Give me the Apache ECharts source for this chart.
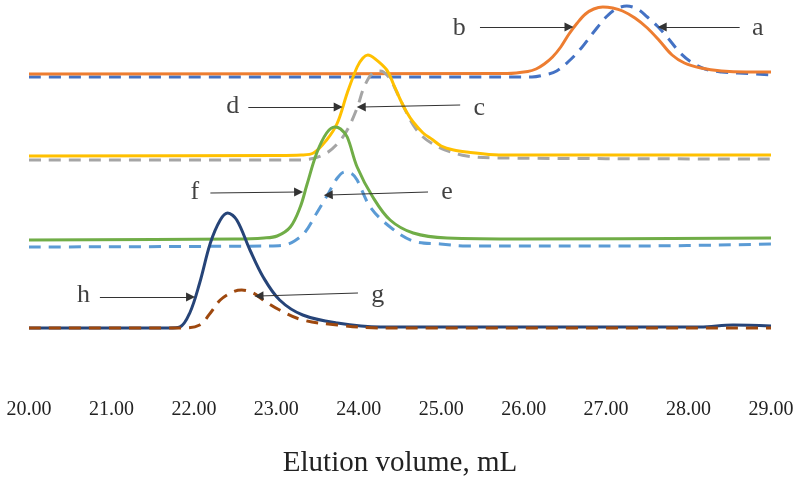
<!DOCTYPE html>
<html>
<head>
<meta charset="utf-8">
<script src="https://cdn.jsdelivr.net/npm/echarts@6/dist/echarts.min.js"></script>
<style>
html,body{margin:0;padding:0;background:#fff;}
#chart{width:797px;height:477px;}
</style>
</head>
<body>
<div id="chart"></div>
<script>
// Elution volume (mL) vs detector signal (arbitrary, offset traces)
var curveA = [[20.00,323],[26.10,323],[26.25,325],[26.40,329],[26.55,339],[26.70,352],[26.85,368],[27.00,383],[27.12,391],[27.25,394],[27.38,391],[27.50,383],[27.62,374],[27.75,362],[27.90,347],[28.05,337],[28.20,331],[28.40,328],[28.60,327],[29.00,325]];
var curveB = [[20.00,326],[25.80,326.5],[26.05,328.5],[26.15,331],[26.25,336],[26.35,343],[26.45,353],[26.55,366],[26.65,377],[26.75,386],[26.85,391],[26.96,393],[27.08,392],[27.20,389],[27.35,382],[27.50,372],[27.65,359],[27.80,345],[27.95,337],[28.15,332],[28.40,329],[28.70,328],[29.00,328]];
var curveC = [[20.00,240],[23.20,240],[23.41,241],[23.61,247],[23.75,257],[23.86,270],[23.98,292],[24.05,310],[24.12,322],[24.17,327],[24.23,329],[24.30,328],[24.38,321],[24.46,308],[24.54,294],[24.66,275],[24.78,263],[24.90,256],[25.05,250],[25.31,244],[25.71,242],[29.00,241]];
var curveD = [[20.00,244],[23.00,244.5],[23.30,245],[23.45,247],[23.61,260],[23.74,277],[23.86,307],[23.98,333],[24.05,342],[24.11,345],[24.20,341],[24.34,330],[24.42,316],[24.50,301],[24.58,288],[24.66,278],[24.78,267],[24.90,260],[25.00,254],[25.15,250],[25.31,248],[25.70,245],[29.00,245]];
var curveE = [[20.00,153],[22.90,154],[23.10,155],[23.22,159],[23.35,168],[23.49,187],[23.62,205],[23.74,222],[23.83,228],[23.92,226],[23.98,220],[24.14,193],[24.38,173],[24.66,159],[24.99,156],[25.31,154],[27.33,154],[29.00,156]];
var curveF = [[20.00,160],[22.50,161],[22.85,162],[23.01,164],[23.17,173],[23.29,193],[23.37,215],[23.49,247],[23.61,267],[23.71,273],[23.78,271],[23.86,263],[23.98,233],[24.17,203],[24.38,180],[24.66,167],[25.07,162],[26.00,161],[29.00,162]];
var curveG = [[20.00,72],[21.87,72],[22.07,75],[22.20,87],[22.32,100],[22.47,108],[22.58,110],[22.72,107],[22.84,100],[23.04,90],[23.32,80],[23.74,75],[24.26,72],[29.00,72]];
var curveH = [[20.00,72],[21.70,72],[21.83,73],[21.95,87],[22.07,117],[22.20,157],[22.32,180],[22.41,187],[22.52,180],[22.68,150],[22.84,123],[23.04,100],[23.32,85],[23.74,77],[24.26,73],[28.14,73],[28.54,75],[29.00,74]];

var xTicks = [20,21,22,23,24,25,26,27,28,29];
var axisTitle = 'Elution volume, mL';

// annotation letters and their arrows (data coordinates)
var annLetters = ['a','b','c','d','e','f','g','h'];
var annTextPos = [[28.84,372],[25.22,372],[25.46,292],[22.47,294],[25.07,208],[22.01,208],[24.23,105],[20.66,105]];
var arrowFrom  = [[28.62,373],[25.47,373],[25.23,295],[22.66,293],[24.84,208],[22.20,207],[23.99,107],[20.86,103]];
var arrowTo    = [[27.68,373],[26.55,373],[24.03,293],[23.75,293],[23.63,205],[23.27,208],[22.79,104],[21.96,103]];

var chart = echarts.init(document.getElementById('chart'), null, {renderer:'canvas'});
var FONT = '"Liberation Serif", "Times New Roman", serif';

function lineSeries(name, data, color, dashed){
  return {
    name: name, type: 'line', data: data, showSymbol: false, symbol: 'none',
    smooth: 0.35,
    lineStyle: {color: color, width: 3, type: dashed ? [12, 8] : 'solid', cap: 'butt', join: 'round'},
    silent: true
  };
}

var letterData = annLetters.map(function(l, i){ return {value: annTextPos[i], name: l}; });
var arrowData = arrowFrom.map(function(p, i){ return [{coord: p}, {coord: arrowTo[i]}]; });

chart.setOption({
  animation: false,
  backgroundColor: '#ffffff',
  grid: {left: 29, right: 26, top: 0, height: 400, containLabel: false, outerBoundsMode: 'none'},
  xAxis: {
    type: 'value', min: 20, max: 29, interval: 1,
    axisLine: {show: false}, axisTick: {show: false}, splitLine: {show: false},
    axisLabel: {
      formatter: function(v){ return v.toFixed(2); },
      fontFamily: FONT, fontSize: 20, color: '#222', margin: 0
    },
    name: axisTitle, nameLocation: 'middle', nameGap: 49,
    nameTextStyle: {fontFamily: FONT, fontSize: 29, color: '#222'}
  },
  yAxis: {
    type: 'value', min: 0, max: 400,
    show: false
  },
  series: [
    lineSeries('a', curveA, '#4472C4', true),
    lineSeries('b', curveB, '#ED7D31', false),
    lineSeries('c', curveC, '#A5A5A5', true),
    lineSeries('d', curveD, '#FFC000', false),
    lineSeries('e', curveE, '#5B9BD5', true),
    lineSeries('f', curveF, '#70AD47', false),
    lineSeries('h', curveH, '#264478', false),
    lineSeries('g', curveG, '#9E480E', true),
    {
      name: 'labels', type: 'scatter', data: letterData,
      symbolSize: 1, itemStyle: {color: 'rgba(0,0,0,0)'}, silent: true,
      label: {show: true, position: 'inside', formatter: '{b}',
        fontFamily: FONT, fontSize: 26, color: '#111'},
      markLine: {
        silent: true, animation: false,
        symbol: ['none', 'triangle'], symbolSize: 9,
        label: {show: false},
        lineStyle: {color: '#333', width: 1, type: 'solid'},
        data: arrowData
      }
    }
  ]
});
</script>
</body>
</html>
